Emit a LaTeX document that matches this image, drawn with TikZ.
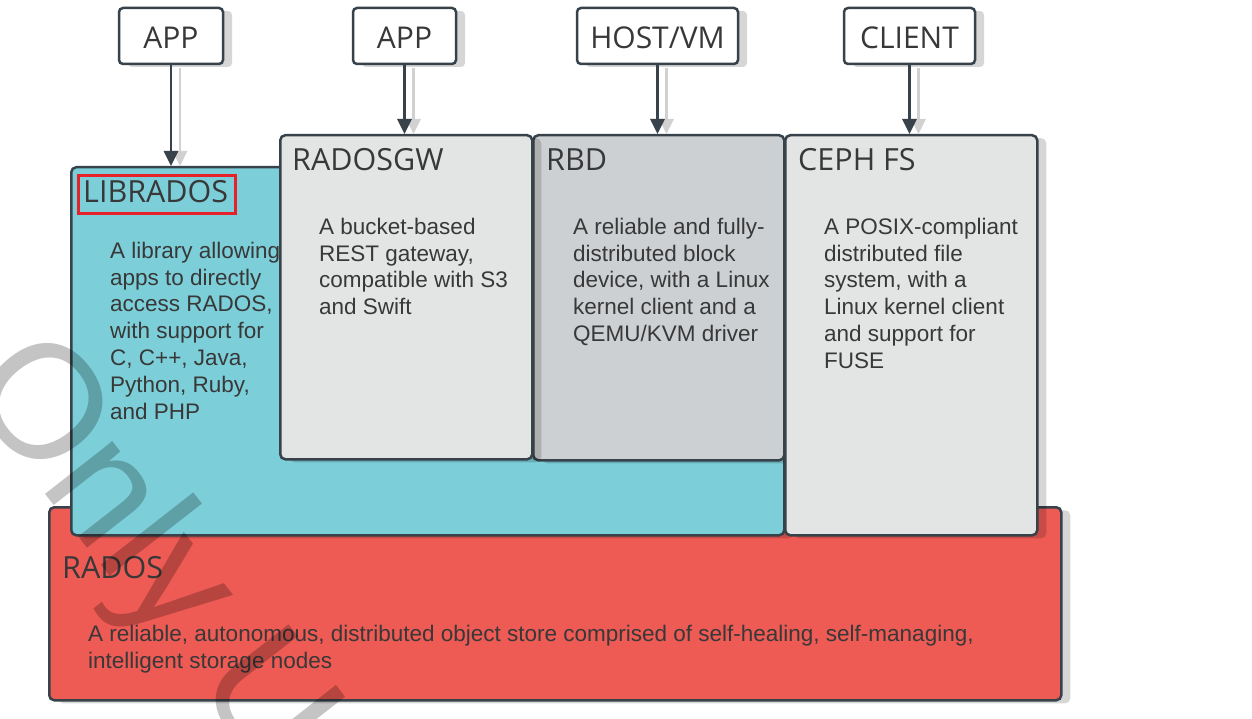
\documentclass[tikz,border=0pt]{standalone}
\usepackage{fontspec}
\setmainfont{Liberation Sans}
\newfontfamily\headfont{Open Sans}
\usetikzlibrary{shadows,arrows.meta}
\definecolor{edge}{HTML}{37424A}
\definecolor{txt}{HTML}{383838}
\definecolor{cyanf}{HTML}{7CCFD9}
\definecolor{lg}{HTML}{E3E4E4}
\definecolor{rbdg}{HTML}{CDD0D2}
\definecolor{radosred}{HTML}{EE5A54}
\definecolor{redbox}{HTML}{E6212A}
\begin{document}
\begin{tikzpicture}[x=1pt,y=-1pt,
  shad/.style={drop shadow={shadow xshift=9pt, shadow yshift=-3pt, fill=black, opacity=0.16}},
  box/.style={draw=edge, line width=2.5pt, rounded corners=5pt, inner sep=0pt, anchor=north west, shad},
  head/.style={font=\headfont\fontsize{30.5}{36}\selectfont, text=txt, inner sep=0pt, anchor=base west},
  body/.style={font=\fontsize{22.5}{26.8}\selectfont, text=txt, inner sep=0pt, anchor=north west, align=left},
  topbox/.style={draw=edge, fill=white, line width=2.5pt, rounded corners=4pt, minimum height=56pt,
    inner sep=0pt, text height=26pt, text depth=0pt, font=\headfont\fontsize{30}{35}\selectfont, text=txt, shad},
  arr/.style={draw=edge, line width=2.7pt, -{Triangle[width=14pt,length=15pt]}},
  arrs/.style={draw=black!18, line width=2.7pt, -{Triangle[width=14pt,length=15pt]}},
  wm/.style={font=\fontsize{162}{162}\selectfont, text=black, text opacity=0.23, inner sep=0pt}
]
\useasboundingbox (0,0) rectangle (1252,719);
\clip (0,0) rectangle (1252,719);

% main boxes
\node[box, fill=radosred, minimum width=1012pt, minimum height=193pt] (rados) at (48,506) {};
\node[box, fill=cyanf, minimum width=713pt, minimum height=368pt] (libr) at (70,166) {};
\node[body] (libb) at (110,241) {\rule{0pt}{17pt}A library allowing\\apps to directly\\access RADOS,\\with support for\\C, C++, Java,\\Python, Ruby,\\and PHP};
\node[box, fill=rbdg, minimum width=251pt, minimum height=325pt] (rbd) at (532,134) {};
\node[box, fill=lg, minimum width=252pt, minimum height=324pt] (rgw) at (279,134) {};
\node[box, fill=lg, minimum width=252pt, minimum height=400pt] (ceph) at (784,134) {};

% headings
\node[head] (libt) at (83,203) {LIBRADOS};
\node[draw=redbox, line width=2.8pt, minimum width=157pt, minimum height=38pt, inner sep=0pt, anchor=north west] (libred) at (77,174) {};
\node[head] (rgwt) at (292,171) {RADOSGW};
\node[head] (rbdt) at (546,171) {RBD};
\node[head] (cepht) at (798,171) {CEPH FS};
\node[head] (radost) at (62,578) {RADOS};

% body texts
\node[body] (rgwb) at (319,217) {\rule{0pt}{17pt}A bucket-based\\REST gateway,\\compatible with S3\\and Swift};
\node[body] (rbdb) at (573,217) {\rule{0pt}{17pt}A reliable and fully-\\distributed block\\device, with a Linux\\kernel client and a\\QEMU/KVM driver};
\node[body] (cephb) at (824,217) {\rule{0pt}{17pt}A POSIX-compliant\\distributed file\\system, with a\\Linux kernel client\\and support for\\FUSE};
\node[body] (radosb) at (88,624) {\rule{0pt}{17pt}A reliable, autonomous, distributed object store comprised of self-healing, self-managing,\\intelligent storage nodes};

% top boxes
\node[topbox, minimum width=104pt] (app1) at (171,36) {APP};
\node[topbox, minimum width=103pt] (app2) at (404.5,36) {APP};
\node[topbox, minimum width=161pt] (host) at (657.5,36) {HOST/VM};
\node[topbox, minimum width=131pt] (client) at (909.5,36) {CLIENT};

% arrows
\foreach \s/\t in {app1/libr, app2/rgw, host/rbd, client/ceph}{
  \draw[arrs] ([xshift=9pt,yshift=-3pt]\s.south) -- ([xshift=9pt]\s.south |- \t.north);
  \draw[arr] (\s.south) -- (\s.south |- \t.north);
}

% watermark
\node[wm, rotate=-52, anchor=base west] (wmark) at (-39,386) {Only U};
\end{tikzpicture}
\end{document}
